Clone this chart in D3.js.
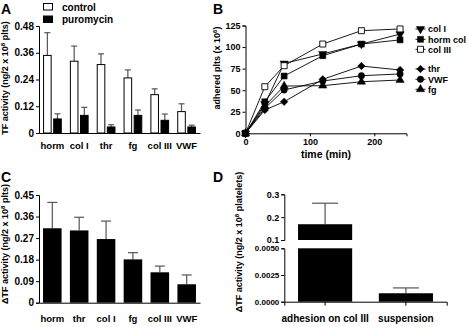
<!DOCTYPE html>
<html>
<head>
<meta charset="utf-8">
<script src="https://cdn.jsdelivr.net/npm/d3@7"></script>
<style>
  body { margin: 0; background: #fff; }
  svg { display: block; }
  text { font-family: "Liberation Sans Narrow", "Arial Narrow", "Liberation Sans", Arial, sans-serif; font-weight: bold; fill: #000; }
  .rot { font-family: "Liberation Sans", Arial, sans-serif; }
  .domain, .tick line { stroke: #000; stroke-width: 1; }
</style>
</head>
<body>
<div id="viz"></div>
<script>
const width = 469;
const height = 327;

// Panel A data
const catsA = ['horm', 'col I', 'thr', 'fg', 'col III', 'VWF'];
const seriesA = ['control', 'puromycin'];
const controlA = [0.348, 0.322, 0.307, 0.247, 0.172, 0.096];
const controlErrA = [0.102, 0.068, 0.048, 0.036, 0.026, 0.035];
const puroA = [0.063, 0.079, 0.027, 0.079, 0.057, 0.027];
const puroErrA = [0.023, 0.036, 0.010, 0.024, 0.028, 0.008];
const ticksA = [0, 0.12, 0.24, 0.36, 0.48];

// Panel B data
const timesB = [0, 30, 60, 120, 180, 240];
const namesB = ['col I', 'horm col', 'col III', 'thr', 'VWF', 'fg'];
const colI = [0, 34, 81, 92, 103.5, 115];
const hormCol = [0, 36.6, 66.4, 90, 103.5, 108.3];
const colIII = [0, 54, 78.4, 103.5, 119, 121];
const thr = [0, 27, 36.6, 62.6, 78, 73.4];
const vwf = [0, 29, 50.2, 60.6, 66.8, 68.8];
const fg = [0, 31.6, 54.8, 55.2, 59.8, 61.8];
const ticksBy = [0, 25, 50, 75, 100, 125];
const ticksBx = [0, 100, 200];

// Panel C data
const catsC = ['horm', 'thr', 'col I', 'fg', 'col III', 'VWF'];
const valsC = [0.311, 0.302, 0.266, 0.181, 0.127, 0.077];
const errC = [0.108, 0.055, 0.075, 0.028, 0.026, 0.039];
const ticksC = [0, 0.09, 0.18, 0.27, 0.36, 0.45];

// Panel D data (broken axis)
const catsD = ['adhesion on col III', 'suspension'];
const valsD = [0.169, 0.00079];
const errD = [0.092, 0.0005];
const ticksDtop = [0.1, 0.2, 0.3];
const ticksDbot = [0, 0.0025, 0.005];

const svg = d3.select('#viz')
  .append('svg')
    .attr('width', width)
    .attr('height', height)
    .style('background', '#fff');

const errColor = '#555';

const panelLetter = (x, y, t) => {
  svg.append('text').attr('x', x).attr('y', y).attr('font-size', 14).text(t);
};

const yLabel = (x, y, pre, sup, post) => {
  const t = svg.append('text')
    .attr('class', 'rot')
    .attr('transform', `translate(${x},${y}) rotate(-90)`)
    .attr('text-anchor', 'middle')
    .attr('font-size', 9);
  t.append('tspan').text(pre);
  t.append('tspan').attr('font-size', 6).attr('dy', -3.5).text(sup);
  t.append('tspan').attr('dy', 3.5).text(post);
};

const styleAxis = (g, size) => {
  g.selectAll('text').attr('font-size', size).attr('fill', '#000');
};

const errBar = (g, cx, yTop, yVal, cap) => {
  g.append('line')
    .attr('x1', cx).attr('x2', cx).attr('y1', yVal).attr('y2', yTop)
    .attr('stroke', errColor).attr('stroke-width', 1.2);
  g.append('line')
    .attr('x1', cx - cap / 2).attr('x2', cx + cap / 2).attr('y1', yTop).attr('y2', yTop)
    .attr('stroke', errColor).attr('stroke-width', 1.2);
};

// ---------- Panel A ----------
panelLetter(1, 14, 'A');
const xA = d3.scaleBand().domain(catsA).range([39, 200]);
const subA = d3.scaleBand().domain(seriesA).range([0, xA.bandwidth()])
  .paddingInner(0.25).paddingOuter(0.45);
const yA = d3.scaleLinear().domain([0, 0.48]).range([133, 26]);

const gA = svg.append('g');
const seriesDataA = [
  {name: 'control', vals: controlA, errs: controlErrA, fill: '#fff'},
  {name: 'puromycin', vals: puroA, errs: puroErrA, fill: '#000'}
];
seriesDataA.forEach(s => {
  catsA.forEach((c, i) => {
    const x = xA(c) + subA(s.name);
    const cx = x + subA.bandwidth() / 2;
    errBar(gA, cx, yA(s.vals[i] + s.errs[i]), yA(s.vals[i]), 6);
    gA.append('rect')
      .attr('x', x).attr('y', yA(s.vals[i]))
      .attr('width', subA.bandwidth()).attr('height', yA(0) - yA(s.vals[i]))
      .attr('fill', s.fill).attr('stroke', '#000').attr('stroke-width', 1);
  });
});

svg.append('g')
  .attr('transform', `translate(39,0)`)
  .call(d3.axisLeft(yA).tickValues(ticksA).tickSize(3).tickPadding(2)
    .tickFormat(d => d === 0 ? '0' : d3.format('.2f')(d)))
  .call(g => styleAxis(g, 10));
svg.append('g')
  .attr('transform', `translate(0,${yA(0)})`)
  .call(d3.axisBottom(xA).tickSize(0).tickPadding(9))
  .call(g => styleAxis(g, 9.5));

// legend A
seriesDataA.forEach((s, i) => {
  svg.append('rect')
    .attr('x', 43.5).attr('y', 3.5 + i * 12.5).attr('width', 9).attr('height', 6.5)
    .attr('fill', s.fill).attr('stroke', '#000').attr('stroke-width', 1);
  svg.append('text').attr('x', 62).attr('y', 10.5 + i * 12.5)
    .attr('font-size', 10).text(s.name);
});
yLabel(8, 78, 'TF activity (ng/2 x 10', '8', ' plts)');

// ---------- Panel B ----------
panelLetter(213, 14, 'B');
const xB = d3.scaleLinear().domain([0, 250]).range([245.5, 406.5]);
const yB = d3.scaleLinear().domain([0, 125]).range([133.3, 25.5]);

svg.append('g')
  .attr('transform', `translate(${xB(0)},0)`)
  .call(d3.axisLeft(yB).tickValues(ticksBy).tickSize(3).tickPadding(2))
  .call(g => styleAxis(g, 9));
svg.append('g')
  .attr('transform', `translate(0,${yB(0)})`)
  .call(d3.axisBottom(xB).tickValues(ticksBx).tickSize(3).tickPadding(2))
  .call(g => styleAxis(g, 9));
svg.append('text')
  .attr('x', 326).attr('y', 157.5).attr('text-anchor', 'middle')
  .attr('font-size', 10.5).text('time (min)');
yLabel(220, 68, 'adhered plts (x 10', '6', ')');

const seriesB = [
  {name: 'col I', vals: colI, sym: d3.symbolTriangle, rot: 180, fill: '#000', size: 30},
  {name: 'horm col', vals: hormCol, sym: d3.symbolSquare, rot: 0, fill: '#000', size: 36},
  {name: 'col III', vals: colIII, sym: d3.symbolSquare, rot: 0, fill: '#fff', size: 36},
  {name: 'thr', vals: thr, sym: d3.symbolSquare, rot: 45, fill: '#000', size: 28},
  {name: 'VWF', vals: vwf, sym: d3.symbolCircle, rot: 0, fill: '#000', size: 32},
  {name: 'fg', vals: fg, sym: d3.symbolTriangle, rot: 0, fill: '#000', size: 30}
];
const lineB = d3.line().x((d, i) => xB(timesB[i])).y(d => yB(d));
const gB = svg.append('g');
seriesB.forEach(s => {
  gB.append('path')
    .attr('d', lineB(s.vals))
    .attr('fill', 'none').attr('stroke', '#000').attr('stroke-width', 0.9);
});
const drawMarker = (g, s, x, y) => {
  g.append('path')
    .attr('d', d3.symbol().type(s.sym).size(s.size)())
    .attr('transform', `translate(${x},${y}) rotate(${s.rot})`)
    .attr('fill', s.fill).attr('stroke', '#000').attr('stroke-width', s.fill === '#fff' ? 0.9 : 0.5);
};
seriesB.forEach(s => {
  s.vals.forEach((v, i) => drawMarker(gB, s, xB(timesB[i]), yB(v)));
});
// legend B
const legYB = [29, 39.3, 49.3, 69, 79.3, 89.3];
seriesB.forEach((s, i) => {
  svg.append('line')
    .attr('x1', 415.5).attr('x2', 425.5).attr('y1', legYB[i]).attr('y2', legYB[i])
    .attr('stroke', '#000').attr('stroke-width', 0.9);
  drawMarker(svg, s, 420.5, legYB[i]);
  svg.append('text').attr('x', 428).attr('y', legYB[i] + 3.3)
    .attr('font-size', 9).text(s.name);
});

// ---------- Panel C ----------
panelLetter(1, 182, 'C');
const xC = d3.scaleBand().domain(catsC).range([39, 200]).paddingInner(0.31).paddingOuter(0.15);
const yC = d3.scaleLinear().domain([0, 0.45]).range([302.7, 195]);
const gC = svg.append('g');
catsC.forEach((c, i) => {
  const cx = xC(c) + xC.bandwidth() / 2;
  errBar(gC, cx, yC(valsC[i] + errC[i]), yC(valsC[i]), 10);
  gC.append('rect')
    .attr('x', xC(c)).attr('y', yC(valsC[i]))
    .attr('width', xC.bandwidth()).attr('height', yC(0) - yC(valsC[i]))
    .attr('fill', '#000');
});
svg.append('g')
  .attr('transform', `translate(39,0)`)
  .call(d3.axisLeft(yC).tickValues(ticksC).tickSize(3).tickPadding(2)
    .tickFormat(d => d === 0 ? '0' : d3.format('.2f')(d)))
  .call(g => styleAxis(g, 10));
svg.append('g')
  .attr('transform', `translate(0,${yC(0)})`)
  .call(d3.axisBottom(xC).tickSize(0).tickPadding(13))
  .call(g => styleAxis(g, 9.5));
yLabel(8, 244, '\u0394TF activity (ng/2 x 10', '8', ' plts)');

// ---------- Panel D ----------
panelLetter(213, 182, 'D');
const xD = d3.scaleBand().domain(catsD).range([284.3, 446.7]).paddingInner(0.33).paddingOuter(0.17);
const yDtop = d3.scaleLinear().domain([0.1, 0.3]).range([240, 194.3]);
const yDbot = d3.scaleLinear().domain([0, 0.005]).range([301.7, 248.3]).clamp(true);
const gD = svg.append('g');
catsD.forEach((c, i) => {
  const cx = xD(c) + xD.bandwidth() / 2;
  const v = valsD[i];
  const e = v + errD[i];
  const yTop = e > 0.005 ? yDtop(e) : yDbot(e);
  const yVal = v > 0.005 ? yDtop(v) : yDbot(v);
  errBar(gD, cx, yTop, yVal, 26);
  // lower segment
  gD.append('rect')
    .attr('x', xD(c)).attr('y', yDbot(v))
    .attr('width', xD.bandwidth()).attr('height', yDbot(0) - yDbot(v))
    .attr('fill', '#000');
  // upper segment
  if (v > 0.1) {
    gD.append('rect')
      .attr('x', xD(c)).attr('y', yDtop(v))
      .attr('width', xD.bandwidth()).attr('height', yDtop(0.1) - yDtop(v))
      .attr('fill', '#000');
  }
});
svg.append('g')
  .attr('transform', `translate(${xD.range()[0]},0)`)
  .call(d3.axisLeft(yDtop).tickValues(ticksDtop).tickSize(3).tickPadding(2)
    .tickFormat(d3.format('.1f')))
  .call(g => styleAxis(g, 9));
svg.append('g')
  .attr('transform', `translate(${xD.range()[0]},0)`)
  .call(d3.axisLeft(yDbot).tickValues(ticksDbot).tickSize(3).tickPadding(2)
    .tickFormat(d3.format('.4f')))
  .call(g => styleAxis(g, 8));
svg.append('g')
  .attr('transform', `translate(0,${yDbot(0)})`)
  .call(d3.axisBottom(xD).tickSize(4).tickPadding(9))
  .call(g => styleAxis(g, 10));
yLabel(242, 242, '\u0394TF activity (ng/2 x 10', '8', ' platelets)');
</script>
</body>
</html>
